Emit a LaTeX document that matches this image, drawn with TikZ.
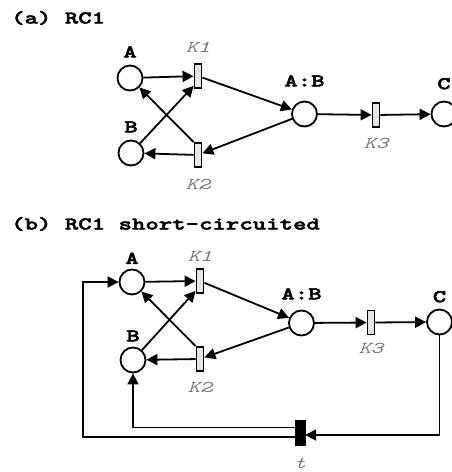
\documentclass[tikz,border=0pt]{standalone}
\usepackage{fontspec}
\usetikzlibrary{arrows.meta, positioning}
\newfontfamily\placefont{lmmonolt10-bold.otf}[FakeStretch=1.42, FakeBold=2.5]
\newfontfamily\ratefont{lmmono10-italic.otf}[FakeStretch=1.4]
\definecolor{ratecolor}{RGB}{120,120,120}
\definecolor{transfill}{RGB}{230,230,230}

\begin{document}
\begin{tikzpicture}[
    x=1pt, y=-1pt,
    place/.style={circle, draw, line width=1.8pt, fill=white, minimum size=25pt, inner sep=0pt},
    trans/.style={rectangle, draw, line width=1.8pt, fill=transfill, minimum width=7pt, minimum height=24pt, inner sep=0pt},
    sink/.style={rectangle, draw, fill=black, minimum width=10pt, minimum height=25pt, inner sep=0pt},
    plabel/.style={font=\placefont\fontsize{18}{21}\selectfont, inner sep=0pt},
    klabel/.style={font=\ratefont\fontsize{16.5}{20}\selectfont, text=ratecolor, inner sep=0pt},
    heading/.style={font=\placefont\fontsize{18}{21}\selectfont, anchor=base west, inner sep=0pt},
    arrow/.style={-{Triangle[length=11pt, width=11pt]}, line width=1.8pt}
]
\useasboundingbox (0,0) rectangle (452,472);

% (a) RC1
\node[heading] (a-title) at (11,23.5) {(a) RC1};
\node[place] (a-A) at (130,78) {};
\node[place] (a-B) at (131,153) {};
\node[trans] (a-K1) at (198,76) {};
\node[trans] (a-K2) at (198,155) {};
\node[place] (a-AB) at (304.5,114) {};
\node[trans] (a-K3) at (376,115) {};
\node[place] (a-C) at (444,114) {};

\node[plabel, above=7pt of a-A] (a-lA) {A};
\node[plabel, above=7pt of a-B] (a-lB) {B};
\node[plabel, above=14pt of a-AB] (a-lAB) {A:B};
\node[plabel, above=11pt of a-C] (a-lC) {C};
\node[klabel, above=10pt of a-K1] (a-lK1) {K1};
\node[klabel, below=11pt of a-K2] (a-lK2) {K2};
\node[klabel, below=10pt of a-K3] (a-lK3) {K3};

\draw[arrow] (a-A) -- (a-K1);
\draw[arrow] (a-B) -- ([yshift=3pt]a-K1.south west);
\draw[arrow] (a-K2.north west) -- (a-A);
\draw[arrow] (a-K2) -- (a-B);
\draw[arrow] (a-K1) -- (a-AB);
\draw[arrow] (a-AB) -- (a-K2);
\draw[arrow] (a-AB) -- (a-K3);
\draw[arrow] (a-K3) -- (a-C);

% (b) RC1 short-circuited
\node[heading] (b-title) at (11,229.5) {(b) RC1 short-circuited};
\node[place] (b-A) at (132,282) {};
\node[place] (b-B) at (133,360) {};
\node[trans] (b-K1) at (200,281) {};
\node[trans] (b-K2) at (200,359) {};
\node[place] (b-AB) at (301.5,323) {};
\node[trans] (b-K3) at (371,322.5) {};
\node[place] (b-C) at (439.5,322) {};
\node[sink] (b-t) at (300,432.5) {};
\coordinate (b-loop) at (83,360);

\node[plabel, above=4.5pt of b-A] (b-lA) {A};
\node[plabel, above=5pt of b-B] (b-lB) {B};
\node[plabel, above=10pt of b-AB] (b-lAB) {A:B};
\node[plabel, above=6pt of b-C] (b-lC) {C};
\node[klabel, above=6pt of b-K1] (b-lK1) {K1};
\node[klabel, below=10pt of b-K2] (b-lK2) {K2};
\node[klabel, below=8pt of b-K3] (b-lK3) {K3};
\node[klabel, below=13pt of b-t] (b-lt) {t};

\draw[arrow] (b-A) -- (b-K1);
\draw[arrow] (b-B) -- ([yshift=3pt]b-K1.south west);
\draw[arrow] (b-K2.north west) -- (b-A);
\draw[arrow] (b-K2) -- (b-B);
\draw[arrow] (b-K1) -- (b-AB);
\draw[arrow] (b-AB) -- (b-K2);
\draw[arrow] (b-AB) -- (b-K3);
\draw[arrow] (b-K3) -- (b-C);
\draw[arrow] (b-C) |- ([yshift=-2.5pt]b-t.east);
\draw[arrow] ([yshift=-4.5pt]b-t.west) -| (b-loop) |- (b-A);
\draw[arrow] ([yshift=5pt]b-t.west) -| (b-B);
\end{tikzpicture}
\end{document}
